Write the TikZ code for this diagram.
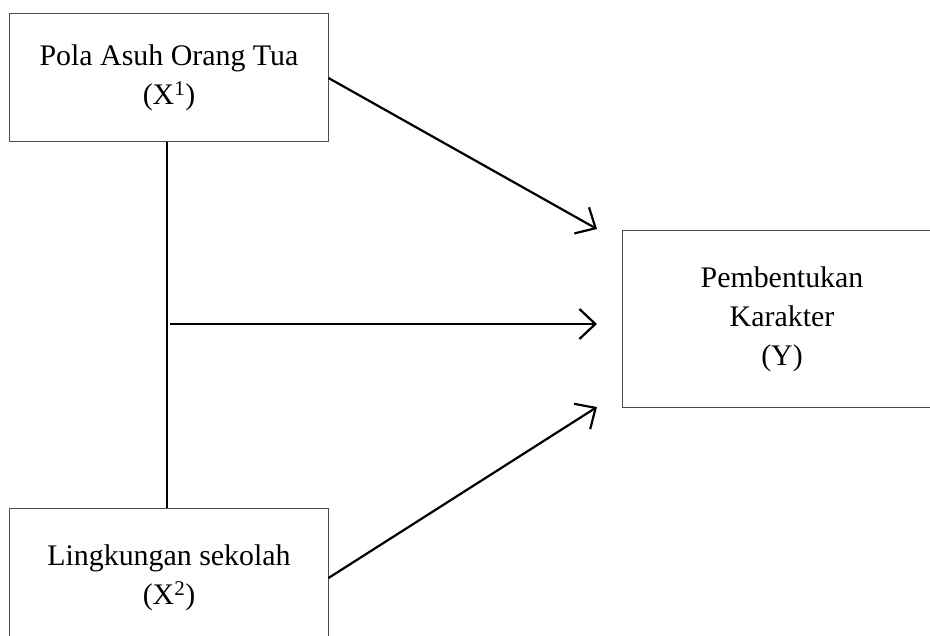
\documentclass[tikz,border=0pt]{standalone}
\usepackage{fontspec}
\setmainfont{Liberation Serif}
\usetikzlibrary{arrows.meta}
\begin{document}
\begin{tikzpicture}[x=1bp,y=-1bp,
 box/.style={draw=black!70, line width=1bp, minimum width=318bp, minimum height=128bp, align=center, inner sep=0pt, font=\fontsize{30}{39}\selectfont},
 conn/.style={line width=2.2bp, black},
 arr/.style={conn, -{Straight Barb[length=16bp,width=30bp,line width=2.2bp]}}]
\useasboundingbox (0,0) rectangle (930,636);
\clip (0,0) rectangle (930,636);
\node[box] (X1) at (169,78) {Pola Asuh Orang Tua\\(X\textsuperscript{1})};
\node[box, minimum height=140bp] (X2) at (169,578) {Lingkungan sekolah\\(X\textsuperscript{2})};
\node[box, minimum width=320bp, minimum height=176bp] (Y) at (782,319) {Pembentukan\\Karakter\\(Y)};
\coordinate (a1) at (597,229);
\coordinate (a2) at (597,324);
\coordinate (a3) at (597,407);
\coordinate (v1) at (167,142);
\coordinate (v2) at (167,508);
\coordinate (m) at (167,324);
\draw[conn] (v1) -- (v2);
\draw[arr] (X1.east) -- (a1);
\draw[arr, shorten <=3bp] (m) -- (a2);
\draw[arr] (X2.east) -- (a3);
\end{tikzpicture}
\end{document}
